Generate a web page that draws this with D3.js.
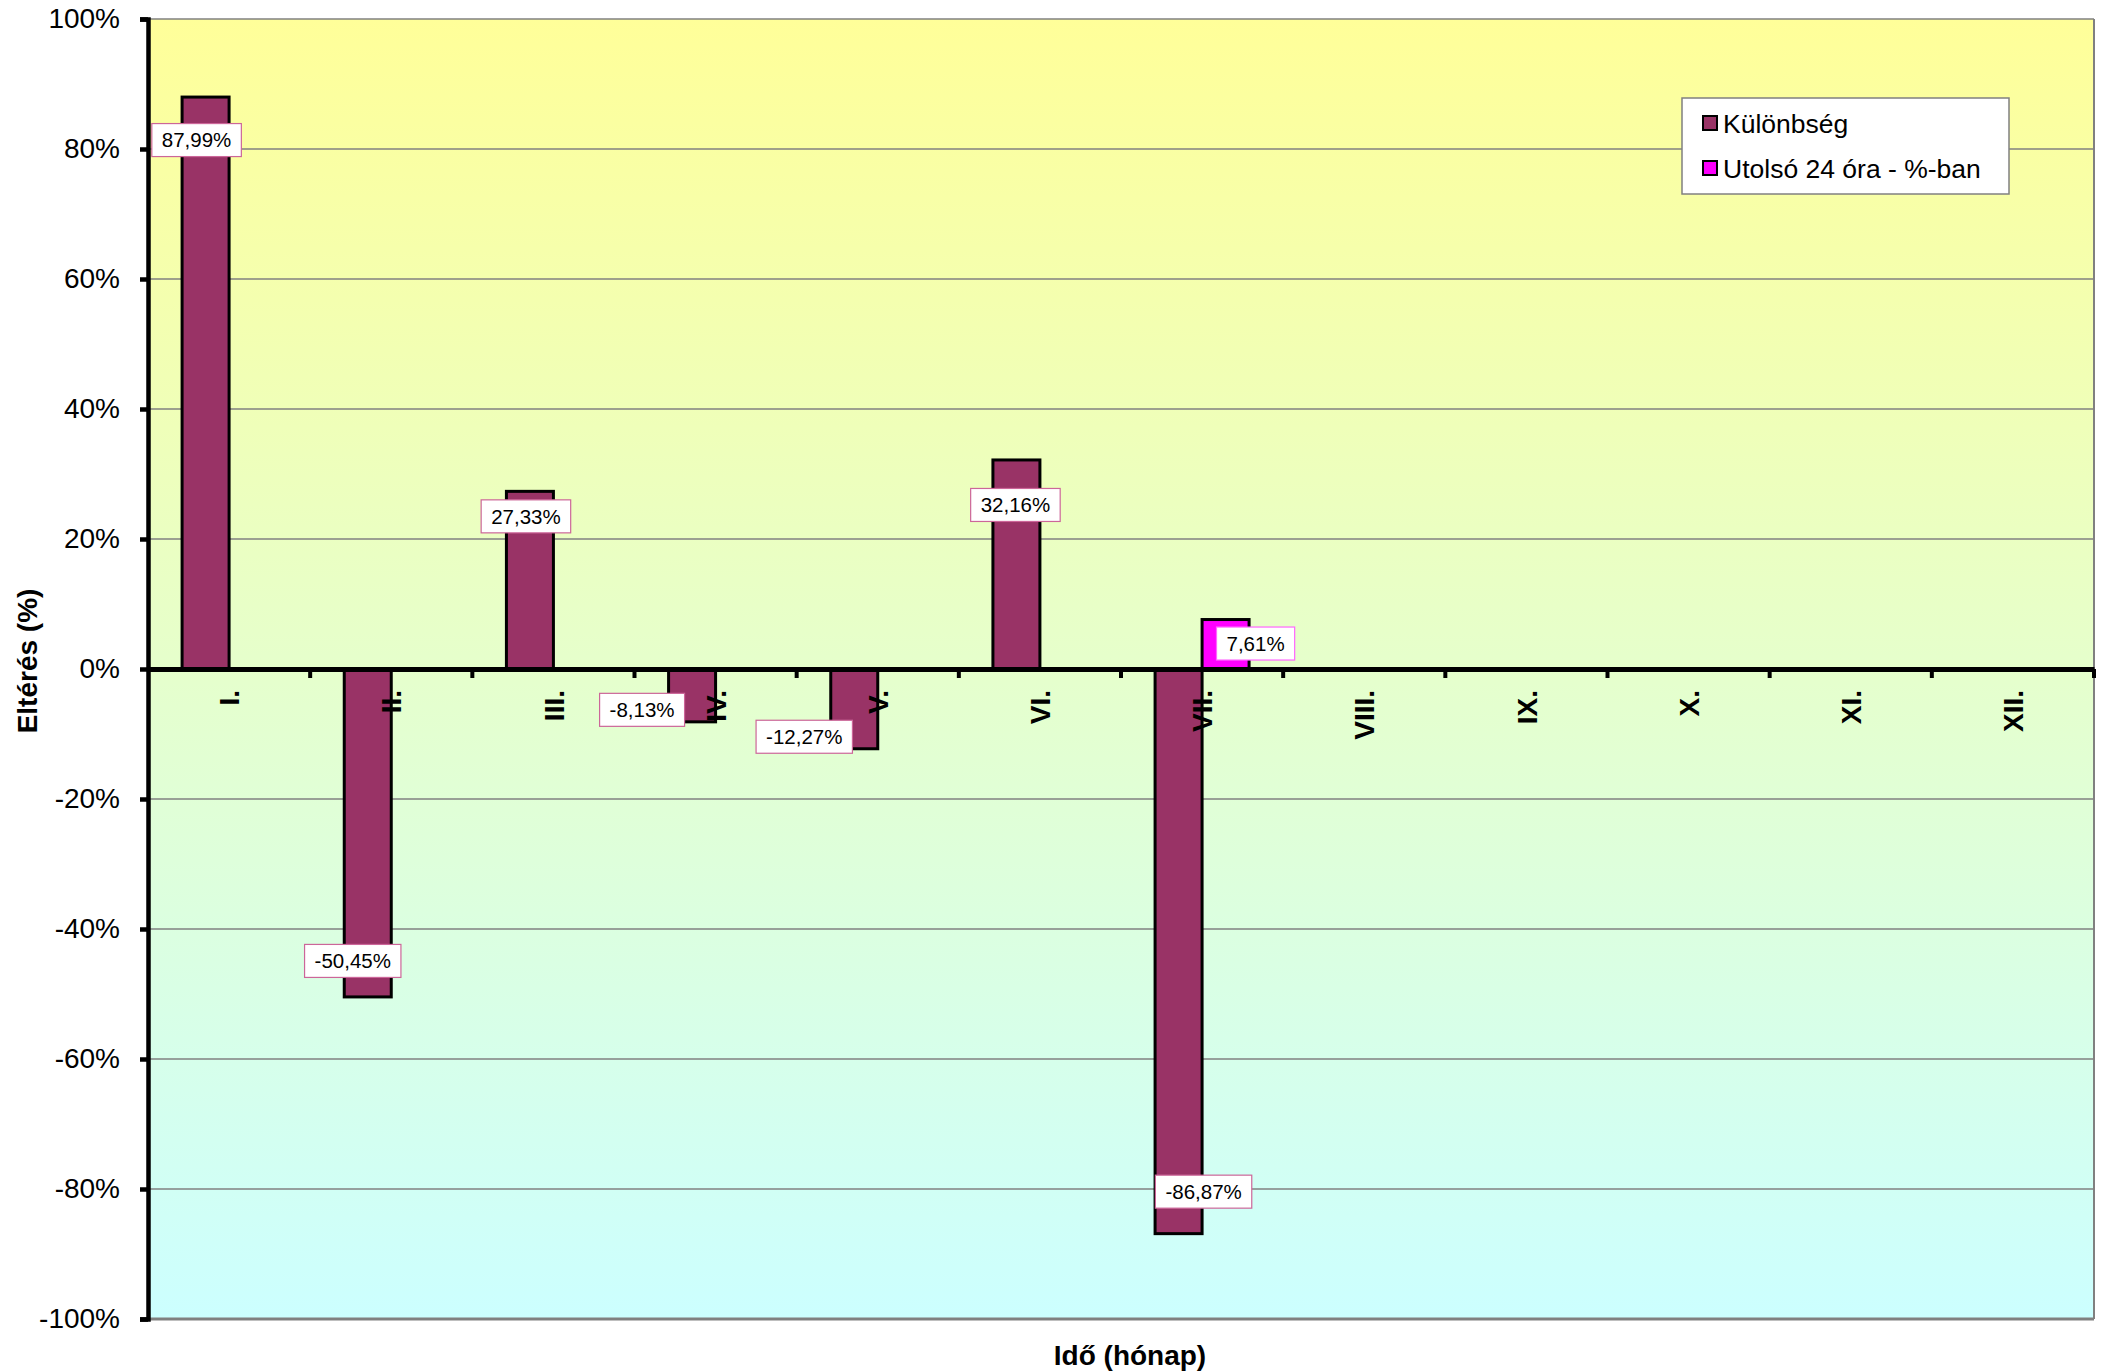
<!DOCTYPE html>
<html>
<head>
<meta charset="utf-8">
<script src="https://cdn.jsdelivr.net/npm/d3@7"></script>
<style>
	body { margin: 0; background: #fff; }
	text { font-family: "Liberation Sans", Arial, sans-serif; fill: #000; }
</style>
</head>
<body>
<div id="chart"></div>
<script>
// data
const months = ["I.", "II.", "III.", "IV.", "V.", "VI.", "VII.", "VIII.", "IX.", "X.", "XI.", "XII."];
const kulonbseg = [87.99, -50.45, 27.33, -8.13, -12.27, 32.16, -86.87, null, null, null, null, null];
const utolso24 = [null, null, null, null, null, null, 7.61, null, null, null, null, null];
const seriesNames = ["Különbség", "Utolsó 24 óra - %-ban"];
const yTicks = [-100, -80, -60, -40, -20, 0, 20, 40, 60, 80, 100];

// label nudges (px) from the bar end, as placed in the original
const nudgeK = [[-9, 43], [-15, -36], [-4, 25], [-50, -12], [-50, -12], [-1, 45], [25, -42]];
const nudgeU = {6: [30, 24]};

const width = 2105, height = 1372;
const margin = {left: 148, top: 19, right: 2105 - 2094, bottom: 1372 - 1319};

const svg = d3.select("#chart").append("svg")
	.attr("width", width).attr("height", height);

const x = d3.scaleBand().domain(months).range([margin.left, width - margin.right]);
const y = d3.scaleLinear().domain([-100, 100]).range([height - margin.bottom, margin.top]);
const barW = 47;

// background gradient
const defs = svg.append("defs");
const grad = defs.append("linearGradient").attr("id", "bg").attr("x1", 0).attr("y1", 0).attr("x2", 0).attr("y2", 1);
grad.append("stop").attr("offset", "0%").attr("stop-color", "#FFFF99");
grad.append("stop").attr("offset", "100%").attr("stop-color", "#CCFFFF");

svg.append("rect")
	.attr("x", margin.left).attr("y", margin.top)
	.attr("width", x.range()[1] - margin.left).attr("height", y(-100) - y(100))
	.attr("fill", "url(#bg)");

// gridlines
svg.append("g").selectAll("line").data(yTicks.filter(d => d != 0)).join("line")
	.attr("x1", margin.left).attr("x2", x.range()[1])
	.attr("y1", d => y(d)).attr("y2", d => y(d))
	.attr("stroke", "#808080").attr("stroke-width", d => (d == -100 ? 3 : 1.3));
svg.append("line")
	.attr("x1", x.range()[1]).attr("x2", x.range()[1])
	.attr("y1", y(100)).attr("y2", y(-100))
	.attr("stroke", "#808080").attr("stroke-width", 2);

// bars
function drawBars(vals, offset, color, cls){
	let data = vals.map((v, i) => ({m: months[i], v: v, i: i})).filter(d => d.v != null);
	svg.append("g").selectAll("rect." + cls).data(data).join("rect")
		.attr("class", cls)
		.attr("x", d => x(d.m) + x.bandwidth() / 2 + offset)
		.attr("y", d => y(Math.max(0, d.v)))
		.attr("width", barW)
		.attr("height", d => Math.abs(y(d.v) - y(0)))
		.attr("fill", color).attr("stroke", "#000").attr("stroke-width", 3);
	return data;
}
const kData = drawBars(kulonbseg, -barW, "#993366", "k");
const uData = drawBars(utolso24, 0, "#FF00FF", "u");

// y axis
const yAxis = svg.append("g")
	.attr("transform", `translate(${margin.left},0)`)
	.call(d3.axisLeft(y).tickValues(yTicks).tickSize(8).tickPadding(20).tickFormat(d => d + "%"));
yAxis.select(".domain").attr("stroke", "#000").attr("stroke-width", 4.5);
yAxis.selectAll(".tick line").attr("stroke", "#000").attr("stroke-width", 4.5);
yAxis.selectAll(".tick text").attr("font-size", 28).attr("font-family", "Liberation Sans, Arial, sans-serif").attr("fill", "#000");

// x axis at zero
const xAxis = svg.append("g")
	.attr("transform", `translate(0,${y(0)})`)
	.call(d3.axisBottom(x).tickSize(0).tickFormat(""));
xAxis.select(".domain").attr("stroke", "#000").attr("stroke-width", 5);
xAxis.selectAll(".tick").remove();
svg.append("g").selectAll("line").data(months.slice(1).concat([null])).join("line")
	.attr("x1", (d, i) => margin.left + x.step() * (i + 1))
	.attr("x2", (d, i) => margin.left + x.step() * (i + 1))
	.attr("y1", y(0)).attr("y2", y(0) + 9)
	.attr("stroke", "#000").attr("stroke-width", 4);

// month labels (rotated)
svg.append("g").selectAll("text").data(months).join("text")
	.attr("transform", d => `translate(${x(d) + x.bandwidth() / 2},${y(0) + 21}) rotate(-90)`)
	.attr("text-anchor", "end").attr("dy", "0.36em")
	.attr("font-size", 28).attr("font-weight", "bold")
	.text(d => d);

// data labels
function fmt(v){ return v.toFixed(2).replace(".", ",") + "%"; }
function drawLabels(data, offset, nudge, border){
	let g = svg.append("g").selectAll("g").data(data).join("g")
		.attr("transform", d => {
			let n = nudge[d.i];
			return `translate(${x(d.m) + x.bandwidth() / 2 + offset + barW / 2 + n[0]},${y(d.v) + n[1]})`;
		});
	let t = g.append("text")
		.attr("text-anchor", "middle").attr("dy", "0.36em")
		.attr("font-size", 20.5).text(d => fmt(d.v));
	t.each(function(){
		let bb = this.getBBox();
		d3.select(this.parentNode).insert("rect", "text")
			.attr("x", bb.x - 10).attr("y", -16.5)
			.attr("width", bb.width + 20).attr("height", 33)
			.attr("fill", "#fff").attr("stroke", border).attr("stroke-width", 1.2);
	});
}
drawLabels(kData, -barW, nudgeK, "#CC6699");
drawLabels(uData, 0, nudgeU, "#FF66FF");

// axis titles
svg.append("text")
	.attr("transform", `translate(27,${(y(100) + y(-100)) / 2 - 8}) rotate(-90)`)
	.attr("text-anchor", "middle").attr("dy", "0.36em")
	.attr("font-size", 28).attr("font-weight", "bold")
	.text("Eltérés (%)");
svg.append("text")
	.attr("x", 1130).attr("y", 1365)
	.attr("text-anchor", "middle")
	.attr("font-size", 28).attr("font-weight", "bold")
	.text("Idő (hónap)");

// legend
const legend = svg.append("g").attr("transform", "translate(1682,98)");
legend.append("rect").attr("width", 327).attr("height", 96)
	.attr("fill", "#fff").attr("stroke", "#808080").attr("stroke-width", 1.5);
const legColors = ["#993366", "#FF00FF"];
const li = legend.selectAll("g").data(seriesNames).join("g")
	.attr("transform", (d, i) => `translate(0,${25 + i * 45})`);
li.append("rect").attr("x", 21).attr("y", -7).attr("width", 14).attr("height", 14)
	.attr("fill", (d, i) => legColors[i]).attr("stroke", "#000").attr("stroke-width", 2);
li.append("text").attr("x", 41).attr("dy", "0.36em").attr("font-size", 26.5).text(d => d);
</script>
</body>
</html>
